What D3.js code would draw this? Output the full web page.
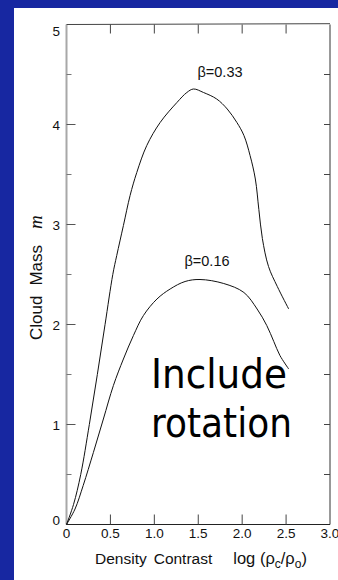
<!DOCTYPE html>
<html><head><meta charset="utf-8">
<script src="https://cdn.jsdelivr.net/npm/d3@7/dist/d3.min.js"></script>
<style>html,body{margin:0;padding:0;background:#1727a1;overflow:hidden}</style>
</head><body>
<script>
// ---- data ----
const xTicks = [0, 0.5, 1.0, 1.5, 2.0, 2.5, 3.0];
const xTickLabels = ["0", "0.5", "1.0", "1.5", "2.0", "2.5", "3.0"];
const yTicks = [0, 1, 2, 3, 4, 5];
const yTickLabels = ["0", "1", "2", "3", "4", "5"];
const yMinorTicks = [0.5, 1.5, 2.5, 3.5, 4.5];
const seriesNames = ["β=0.33", "β=0.16"];
const beta033X = [0, 0.08, 0.162, 0.26, 0.351, 0.439, 0.527, 0.572, 0.648, 0.724, 0.80, 0.914, 1.066, 1.257, 1.37, 1.446, 1.56, 1.71, 1.83, 1.94, 2.02, 2.09, 2.15, 2.19, 2.23, 2.30, 2.40, 2.53];
const beta033Y = [0, 0.2, 0.5, 1.0, 1.5, 2.0, 2.5, 2.69, 2.99, 3.29, 3.52, 3.79, 4.02, 4.22, 4.32, 4.355, 4.32, 4.255, 4.155, 4.02, 3.89, 3.69, 3.455, 3.15, 2.86, 2.58, 2.38, 2.155];
const beta016X = [0, 0.097, 0.19, 0.306, 0.42, 0.534, 0.648, 0.762, 0.876, 1.03, 1.18, 1.35, 1.52, 1.79, 2.02, 2.17, 2.28, 2.36, 2.43, 2.53];
const beta016Y = [0, 0.155, 0.39, 0.72, 1.055, 1.39, 1.655, 1.89, 2.09, 2.255, 2.355, 2.43, 2.45, 2.41, 2.32, 2.155, 1.99, 1.83, 1.69, 1.555];
const xTitle = ["Density", "Contrast", "log (ρ", "c", "/ρ", "o", ")"];
const yTitle = ["Cloud", "Mass", "m"];
const overlayText = ["Include", "rotation"];

const W = 338, H = 580;
const svg = d3.select("body").append("svg").attr("width", W).attr("height", H)
  .style("display", "block");
svg.append("rect").attr("width", W).attr("height", H).attr("fill", "#1727a1");
svg.append("rect").attr("x", 14).attr("y", 8).attr("width", W - 14).attr("height", H - 8).attr("fill", "#ffffff");

const x = d3.scaleLinear().domain([0, 3]).range([66.5, 330]);
const y = d3.scaleLinear().domain([0, 5]).range([524.5, 24.5]);
const font = "'Liberation Sans', Arial, Helvetica, sans-serif";

// frame
const g = svg.append("g");
g.append("line").attr("x1", x(0)).attr("x2", x(0)).attr("y1", y(5)).attr("y2", y(0))
  .attr("stroke", "#a8a8a8").attr("stroke-width", 2);
g.append("line").attr("x1", x(0)).attr("x2", x(3)).attr("y1", y(0)).attr("y2", y(0))
  .attr("stroke", "#222").attr("stroke-width", 1.2);
g.append("line").attr("x1", x(3)).attr("x2", x(3)).attr("y1", y(5)).attr("y2", y(0))
  .attr("stroke", "#333").attr("stroke-width", 1);
g.append("line").attr("x1", x(0)).attr("x2", x(3)).attr("y1", y(5)).attr("y2", y(5) - 0.8)
  .attr("stroke", "#444").attr("stroke-width", 1);

// bottom / top ticks + labels
const inner = xTicks.filter(v => v > 0 && v < 3);
g.selectAll(".bt").data(inner).join("line")
  .attr("x1", d => x(d)).attr("x2", d => x(d)).attr("y1", y(0)).attr("y2", y(0) - 10)
  .attr("stroke", "#444").attr("stroke-width", 1);
g.selectAll(".tt").data(inner).join("line")
  .attr("x1", d => x(d)).attr("x2", d => x(d)).attr("y1", y(5)).attr("y2", y(5) + 9)
  .attr("stroke", "#444").attr("stroke-width", 1);
g.selectAll(".xl").data(xTicks).join("text")
  .attr("x", d => x(d)).attr("y", 538).attr("text-anchor", "middle")
  .attr("font-family", font).attr("font-size", 13.5).attr("fill", "#111")
  .text((d, i) => xTickLabels[i]);

// left axis ticks
g.selectAll(".lt").data(yTicks.filter(v => v > 0 && v < 5)).join("line")
  .attr("x1", x(0)).attr("x2", x(0) + 9).attr("y1", d => y(d)).attr("y2", d => y(d))
  .attr("stroke", "#555").attr("stroke-width", 1);
g.selectAll(".lm").data(yMinorTicks).join("line")
  .attr("x1", x(0)).attr("x2", x(0) + 5).attr("y1", d => y(d)).attr("y2", d => y(d))
  .attr("stroke", "#777").attr("stroke-width", 1);
// right axis ticks
g.selectAll(".rt").data(yTicks.filter(v => v > 0 && v < 5).concat(yMinorTicks)).join("line")
  .attr("x1", x(3)).attr("x2", x(3) - 6).attr("y1", d => y(d)).attr("y2", d => y(d))
  .attr("stroke", "#444").attr("stroke-width", 1);
g.selectAll(".yl").data(yTicks).join("text")
  .attr("x", 60).attr("text-anchor", "end")
  .attr("y", d => Math.min(Math.max(y(d), y(5) + 6), y(0) - 5) + 5)
  .attr("font-family", font).attr("font-size", 13.5).attr("fill", "#111")
  .text((d, i) => yTickLabels[i]);

// curves
const line = d3.line().x(d => x(d[0])).y(d => y(d[1])).curve(d3.curveCatmullRom.alpha(0.5));
const s1 = beta033X.map((v, i) => [v, beta033Y[i]]);
const s2 = beta016X.map((v, i) => [v, beta016Y[i]]);
[s1, s2].forEach(s => {
  svg.append("path").attr("d", line(s)).attr("fill", "none")
    .attr("stroke", "#111").attr("stroke-width", 1);
});
svg.append("text").attr("x", 220).attr("y", 77).attr("text-anchor", "middle")
  .attr("font-family", font).attr("font-size", 14.5).attr("fill", "#111").text(seriesNames[0]);
svg.append("text").attr("x", 207).attr("y", 266).attr("text-anchor", "middle")
  .attr("font-family", font).attr("font-size", 14.5).attr("fill", "#111").text(seriesNames[1]);

// axis titles
const xt = svg.append("text").attr("x", 95).attr("y", 564)
  .attr("font-family", font).attr("font-size", 15.5).attr("fill", "#111");
xt.append("tspan").text(xTitle[0]);
xt.append("tspan").attr("dx", 7).text(xTitle[1]);
xt.append("tspan").attr("dx", 21).attr("font-size", 16.5).text(xTitle[2]);
xt.append("tspan").attr("dy", 4).attr("font-size", 12).text(xTitle[3]);
xt.append("tspan").attr("dy", -4).attr("font-size", 16.5).text(xTitle[4]);
xt.append("tspan").attr("dy", 4).attr("font-size", 12).text(xTitle[5]);
xt.append("tspan").attr("dy", -4).attr("font-size", 16.5).text(xTitle[6]);

const yt = svg.append("text").attr("transform", "translate(42,340) rotate(-90)")
  .attr("font-family", font).attr("font-size", 17).attr("fill", "#111");
yt.append("tspan").text(yTitle[0]);
yt.append("tspan").attr("dx", 10).text(yTitle[1]);
yt.append("tspan").attr("dx", 16).attr("font-style", "italic").attr("font-family", "'Liberation Serif', 'Times New Roman', serif").attr("font-size", 19).text(yTitle[2]);

// overlay text
const bigFont = "'DejaVu Sans', Verdana, sans-serif";
svg.append("text").attr("x", 151).attr("y", 388).attr("font-family", bigFont)
  .attr("font-size", 40.5).attr("fill", "#000").attr("textLength", 136).attr("lengthAdjust", "spacingAndGlyphs").text(overlayText[0]);
svg.append("text").attr("x", 151).attr("y", 437).attr("font-family", bigFont)
  .attr("font-size", 40.5).attr("fill", "#000").attr("textLength", 141).attr("lengthAdjust", "spacingAndGlyphs").text(overlayText[1]);
</script>
</body></html>
